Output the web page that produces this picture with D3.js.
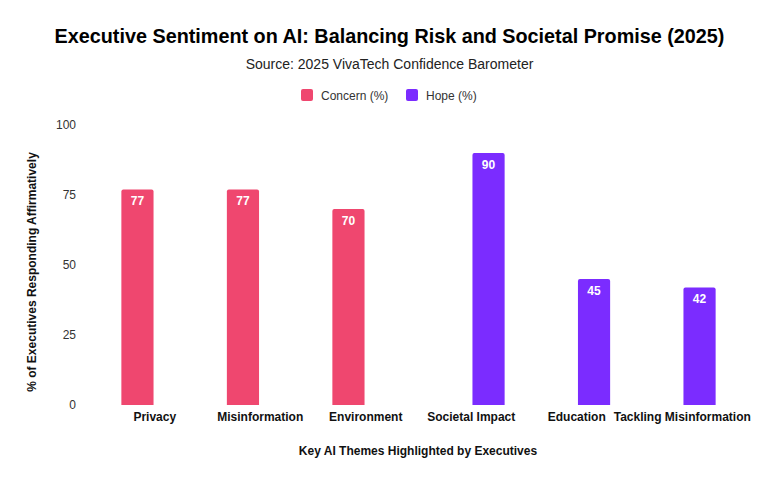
<!DOCTYPE html>
<html>
<head>
<meta charset="utf-8">
<script src="https://cdn.jsdelivr.net/npm/d3@7"></script>
<style>
  body { margin: 0; background: #fff; }
  svg { display: block; font-family: "Liberation Sans", Arial, sans-serif; }
</style>
</head>
<body>
<div id="chart"></div>
<script>
const categories = ["Privacy", "Misinformation", "Environment", "Societal Impact", "Education", "Tackling Misinformation"];
const seriesNames = ["Concern (%)", "Hope (%)"];
const concernValues = [77, 77, 70, null, null, null];
const hopeValues = [null, null, null, 90, 45, 42];
const yTicks = [0, 25, 50, 75, 100];
const colors = ["#EF476F", "#7B2CFF"];

const width = 779, height = 482;
const plot = { left: 102, right: 735, top: 125, bottom: 405 };

const svg = d3.select("#chart").append("svg")
  .attr("width", width)
  .attr("height", height);

// titles
svg.append("text")
  .attr("x", width / 2).attr("y", 43)
  .attr("text-anchor", "middle")
  .style("font-size", "19.8px").style("font-weight", "bold").style("fill", "#000")
  .text("Executive Sentiment on AI: Balancing Risk and Societal Promise (2025)");

svg.append("text")
  .attr("x", width / 2).attr("y", 69)
  .attr("text-anchor", "middle")
  .style("font-size", "14px").style("fill", "#222")
  .text("Source: 2025 VivaTech Confidence Barometer");

// legend
const legendItems = [
  { name: seriesNames[0], color: colors[0], x: 301 },
  { name: seriesNames[1], color: colors[1], x: 406 }
];
const legend = svg.append("g");
legendItems.forEach(it => {
  legend.append("rect")
    .attr("x", it.x).attr("y", 89).attr("width", 12).attr("height", 12)
    .attr("rx", 2).attr("fill", it.color);
  legend.append("text")
    .attr("x", it.x + 20).attr("y", 99.5)
    .style("font-size", "12px").style("fill", "#333")
    .text(it.name);
});

// scales
const x0 = d3.scaleBand()
  .domain(categories)
  .range([plot.left, plot.right]);

const x1 = d3.scaleBand()
  .domain(seriesNames)
  .range([0, x0.bandwidth()])
  .paddingInner(0.07)
  .paddingOuter(0.56);

const y = d3.scaleLinear()
  .domain([0, 100])
  .range([plot.bottom, plot.top]);

// y axis
const yAxis = svg.append("g")
  .attr("transform", `translate(${plot.left - 18},0)`)
  .call(d3.axisLeft(y).tickValues(yTicks).tickSize(0).tickPadding(8));
yAxis.select(".domain").remove();
yAxis.selectAll("text")
  .style("font-family", "Liberation Sans, Arial, sans-serif")
  .style("font-size", "12px").style("fill", "#333");

// x axis
const xAxis = svg.append("g")
  .attr("transform", `translate(0,${plot.bottom})`)
  .call(d3.axisBottom(x0).tickSize(0).tickPadding(7));
xAxis.select(".domain").remove();
xAxis.selectAll("text")
  .style("font-family", "Liberation Sans, Arial, sans-serif")
  .style("font-size", "12px").style("font-weight", "bold").style("fill", "#111");

// axis titles
svg.append("text")
  .attr("transform", `translate(36,${(plot.top + plot.bottom) / 2 + 7}) rotate(-90)`)
  .attr("text-anchor", "middle")
  .style("font-size", "12px").style("font-weight", "bold").style("fill", "#111")
  .text("% of Executives Responding Affirmatively");

svg.append("text")
  .attr("x", 418).attr("y", 455)
  .attr("text-anchor", "middle")
  .style("font-size", "12px").style("font-weight", "bold").style("fill", "#111")
  .text("Key AI Themes Highlighted by Executives");

// bars
const rows = [];
categories.forEach((c, i) => {
  [concernValues[i], hopeValues[i]].forEach((v, s) => {
    if (v != null) rows.push({ cat: c, series: seriesNames[s], value: v, color: colors[s] });
  });
});

function topRounded(x, yTop, w, h, r) {
  return `M${x},${yTop + h}V${yTop + r}Q${x},${yTop} ${x + r},${yTop}` +
    `H${x + w - r}Q${x + w},${yTop} ${x + w},${yTop + r}V${yTop + h}Z`;
}

const bars = svg.append("g").selectAll("g")
  .data(rows)
  .join("g");

bars.append("path")
  .attr("d", d => {
    const bx = x0(d.cat) + x1(d.series);
    const by = y(d.value);
    return topRounded(bx, by, x1.bandwidth(), plot.bottom - by, 2);
  })
  .attr("fill", d => d.color);

bars.append("text")
  .attr("x", d => x0(d.cat) + x1(d.series) + x1.bandwidth() / 2)
  .attr("y", d => y(d.value) + 16)
  .attr("text-anchor", "middle")
  .style("font-size", "12px").style("font-weight", "bold").style("fill", "#fff")
  .text(d => d.value);
</script>
</body>
</html>
